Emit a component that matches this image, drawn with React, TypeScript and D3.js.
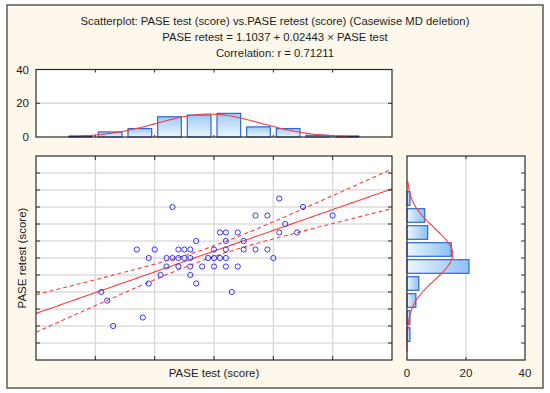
import { useEffect } from 'react';
import * as d3 from 'd3';

// scatter data (visible markers), test score vs retest score
const PASE_TEST = [
  51, 33, 55, 47, 49, 60, 52, 41, 42, 44, 51, 54, 37, 42, 45, 27, 30, 34, 35, 36, 40, 42, 45, 47,
  49, 29, 32, 33, 34, 35, 36, 39, 40, 41, 42, 50, 32, 34, 36, 38, 40, 42, 44, 31, 36, 29, 37, 21,
  43, 22, 28, 23,
];
const PASE_RETEST = [
  2.7, 2.6, 2.6, 2.5, 2.5, 2.5, 2.4, 2.3, 2.3, 2.3, 2.3, 2.3, 2.2, 2.2, 2.2, 2.1, 2.1, 2.1, 2.1,
  2.1, 2.1, 2.1, 2.1, 2.1, 2.1, 2.0, 2.0, 2.0, 2.0, 2.0, 2.0, 2.0, 2.0, 2.0, 2.0, 2.0, 1.9, 1.9,
  1.9, 1.9, 1.9, 1.9, 1.9, 1.8, 1.8, 1.7, 1.7, 1.6, 1.6, 1.5, 1.3, 1.2,
];

// marginal histograms
const TEST_BIN_START = [15, 20, 25, 30, 35, 40, 45, 50, 55, 60];
const TEST_BIN_COUNT = [0, 3, 5, 12, 13, 14, 6, 5, 1, 0];
const TEST_BIN_WIDTH = 5;
const RETEST_BIN_START = [0.8, 1.0, 1.2, 1.4, 1.6, 1.8, 2.0, 2.2, 2.4, 2.6, 2.8];
const RETEST_BIN_COUNT = [0, 1, 1, 3, 4, 21, 15, 7, 6, 1, 0];
const RETEST_BIN_WIDTH = 0.2;

const TEST_TICKS = [10, 20, 30, 40, 50, 60, 70];
const RETEST_TICKS = [0.8, 1.0, 1.2, 1.4, 1.6, 1.8, 2.0, 2.2, 2.4, 2.6, 2.8, 3.0, 3.2];
const COUNT_TICKS = [0, 20, 40];

const INTERCEPT = 1.1037;
const SLOPE = 0.02443;
const T_CRIT = 2.009;

const FONT = '"Liberation Sans", Arial, sans-serif';

export default function App() {
  useEffect(() => {
    document.body.style.margin = '0';
  }, []);

  const sc = { left: 36, right: 392, top: 156, bottom: 360 };
  const th = { top: 69.5, bottom: 137 };
  const sh = { left: 407, right: 525 };

  const x = d3.scaleLinear().domain([10, 70]).range([sc.left, sc.right]);
  const y = d3.scaleLinear().domain([0.8, 3.2]).range([sc.bottom, sc.top]);
  const cTop = d3.scaleLinear().domain([0, 40]).range([th.bottom, th.top]);
  const cSide = d3.scaleLinear().domain([0, 40]).range([sh.left, sh.right]);

  // regression + 95% confidence band
  const n = PASE_TEST.length;
  const xbar = d3.mean(PASE_TEST) ?? 0;
  const sxx = d3.sum(PASE_TEST, (v) => (v - xbar) ** 2);
  const sse = d3.sum(PASE_TEST, (v, i) => (PASE_RETEST[i] - (INTERCEPT + SLOPE * v)) ** 2);
  const s = Math.sqrt(sse / (n - 2));
  const fit = (v: number) => INTERCEPT + SLOPE * v;
  const half = (v: number) => T_CRIT * s * Math.sqrt(1 / n + (v - xbar) ** 2 / sxx);
  const xs = d3.range(10, 70.001, 0.5);
  const lineFn = (f: (v: number) => number) =>
    d3.line<number>().x((v) => x(v)).y((v) => y(f(v)))(xs) ?? '';

  // normal curves for the histograms
  const tMean = d3.mean(PASE_TEST) ?? 0;
  const tSd = d3.deviation(PASE_TEST) ?? 1;
  const rMean = d3.mean(PASE_RETEST) ?? 0;
  const rSd = d3.deviation(PASE_RETEST) ?? 1;
  const tN = d3.sum(TEST_BIN_COUNT);
  const rN = d3.sum(RETEST_BIN_COUNT);
  const pdf = (v: number, m: number, sd: number) =>
    Math.exp(-0.5 * ((v - m) / sd) ** 2) / (sd * Math.sqrt(2 * Math.PI));

  const tFirst = TEST_BIN_START[0] + TEST_BIN_WIDTH / 2;
  const tLast = TEST_BIN_START[TEST_BIN_START.length - 1] + TEST_BIN_WIDTH / 2;
  const topCurve =
    d3
      .line<number>()
      .x((v) => x(v))
      .y((v) => cTop(tN * TEST_BIN_WIDTH * pdf(v, tMean, tSd)))
      .curve(d3.curveBasis)(d3.range(tFirst, tLast + 0.001, 0.5)) ?? '';

  const rFirst = RETEST_BIN_START[0] + RETEST_BIN_WIDTH / 2;
  const rLast = RETEST_BIN_START[RETEST_BIN_START.length - 1] + RETEST_BIN_WIDTH / 2;
  const sideCurve =
    d3
      .line<number>()
      .x((v) => cSide(rN * RETEST_BIN_WIDTH * pdf(v, rMean, rSd)))
      .y((v) => y(v))
      .curve(d3.curveBasis)(d3.range(rFirst, rLast + 0.0001, 0.02)) ?? '';

  const grid = '#dcdcdc';
  const axis = '#2a2a2a';
  const red = '#ff3b3b';
  const barStroke = '#2f66d6';

  return (
    <svg width={550} height={393} style={{ display: 'block', fontFamily: FONT }}>
      <defs>
        <linearGradient id="gTop" x1="0" y1="1" x2="0" y2="0">
          <stop offset="0%" stopColor="#eef6fe" />
          <stop offset="100%" stopColor="#9dcbf6" />
        </linearGradient>
        <linearGradient id="gSide" x1="0" y1="0" x2="1" y2="0">
          <stop offset="0%" stopColor="#eef6fe" />
          <stop offset="100%" stopColor="#8cc1f4" />
        </linearGradient>
        <clipPath id="clipSc">
          <rect x={sc.left} y={sc.top} width={sc.right - sc.left} height={sc.bottom - sc.top} />
        </clipPath>
      </defs>

      <rect x={0} y={0} width={550} height={393} fill="#fff" />
      <rect x={7} y={5} width={536} height={383} fill="#fdf8eb" stroke="#5a5a5a" strokeWidth={1.5} />

      {/* titles */}
      <g fill="#1e1e1e" fontSize={11.3} textAnchor="middle">
        <text x={275} y={25}>
          Scatterplot: PASE test (score) vs.PASE retest (score) (Casewise MD deletion)
        </text>
        <text x={275} y={41}>PASE retest = 1.1037 + 0.02443 × PASE test</text>
        <text x={275} y={57}>Correlation: r = 0.71211</text>
      </g>

      {/* top histogram */}
      <rect x={sc.left} y={th.top} width={sc.right - sc.left} height={th.bottom - th.top} fill="#fff" />
      <line x1={sc.left} x2={sc.right} y1={cTop(20)} y2={cTop(20)} stroke={grid} strokeWidth={1.5} />
      {TEST_BIN_START.map((b, i) =>
        TEST_BIN_COUNT[i] === 0 ? (
          <line
            key={b}
            x1={x(b) + 3}
            x2={x(b + TEST_BIN_WIDTH) - 3}
            y1={th.bottom - 0.5}
            y2={th.bottom - 0.5}
            stroke="#102a8a"
            strokeWidth={2}
          />
        ) : (
          <rect
            key={b}
            x={x(b) + 3}
            y={cTop(TEST_BIN_COUNT[i])}
            width={x(b + TEST_BIN_WIDTH) - x(b) - 6}
            height={th.bottom - cTop(TEST_BIN_COUNT[i])}
            fill="url(#gTop)"
            stroke={barStroke}
            strokeWidth={1.2}
          />
        )
      )}
      <path d={topCurve} fill="none" stroke={red} strokeWidth={1.1} />
      <g stroke={axis} strokeWidth={1}>
        {TEST_TICKS.slice(1, -1).map((t) => (
          <g key={t}>
            <line x1={x(t)} x2={x(t)} y1={th.top} y2={th.top + 3} />
            <line x1={x(t)} x2={x(t)} y1={th.bottom} y2={th.bottom - 2} />
          </g>
        ))}
        <line x1={sc.left} x2={sc.left + 4} y1={cTop(20)} y2={cTop(20)} />
        <line x1={sc.right} x2={sc.right - 4} y1={cTop(20)} y2={cTop(20)} />
      </g>
      <rect
        x={sc.left}
        y={th.top}
        width={sc.right - sc.left}
        height={th.bottom - th.top}
        fill="none"
        stroke={axis}
        strokeWidth={1.2}
      />
      <g fontSize={11.5} fill="#222" textAnchor="end">
        {COUNT_TICKS.map((t) => (
          <text key={t} x={29} y={cTop(t) + 4}>
            {t}
          </text>
        ))}
      </g>

      {/* scatterplot */}
      <rect x={sc.left} y={sc.top} width={sc.right - sc.left} height={sc.bottom - sc.top} fill="#fff" />
      <g stroke={grid} strokeWidth={1.5}>
        {TEST_TICKS.slice(1, -1).map((t) => (
          <line key={t} x1={x(t)} x2={x(t)} y1={sc.top} y2={sc.bottom} />
        ))}
        {RETEST_TICKS.slice(1, -1).map((t) => (
          <line key={t} x1={sc.left} x2={sc.right} y1={y(t)} y2={y(t)} />
        ))}
      </g>
      <g clipPath="url(#clipSc)" fill="none" stroke={red} strokeWidth={1.1}>
        <path d={lineFn(fit)} />
        <path d={lineFn((v) => fit(v) + half(v))} strokeDasharray="4 3" />
        <path d={lineFn((v) => fit(v) - half(v))} strokeDasharray="4 3" />
      </g>
      <g fill="none" stroke="#3434ff" strokeWidth={1}>
        {PASE_TEST.map((v, i) => (
          <circle key={i} cx={x(v)} cy={y(PASE_RETEST[i])} r={2.6} />
        ))}
      </g>
      <g stroke={axis} strokeWidth={1}>
        {RETEST_TICKS.slice(1, -1).map((t) => (
          <g key={t}>
            <line x1={sc.left} x2={sc.left + 4} y1={y(t)} y2={y(t)} />
            <line x1={sc.right} x2={sc.right - 4} y1={y(t)} y2={y(t)} />
          </g>
        ))}
        {TEST_TICKS.slice(1, -1).map((t) => (
          <g key={t}>
            <line x1={x(t)} x2={x(t)} y1={sc.top} y2={sc.top + 4} />
            <line x1={x(t)} x2={x(t)} y1={sc.bottom} y2={sc.bottom - 4} />
          </g>
        ))}
      </g>
      <rect
        x={sc.left}
        y={sc.top}
        width={sc.right - sc.left}
        height={sc.bottom - sc.top}
        fill="none"
        stroke={axis}
        strokeWidth={1.2}
      />
      <text x={214} y={377} fontSize={11.5} fill="#222" textAnchor="middle">
        PASE test (score)
      </text>
      <text
        transform={`translate(26,${(sc.top + sc.bottom) / 2}) rotate(-90)`}
        fontSize={11.5}
        fill="#222"
        textAnchor="middle"
      >
        PASE retest (score)
      </text>

      {/* side histogram */}
      <rect x={sh.left} y={sc.top} width={sh.right - sh.left} height={sc.bottom - sc.top} fill="#fff" />
      <line x1={cSide(20)} x2={cSide(20)} y1={sc.top} y2={sc.bottom} stroke={grid} strokeWidth={1.5} />
      <g stroke={axis} strokeWidth={1}>
        {RETEST_TICKS.slice(1, -1).map((t) => (
          <line key={t} x1={sh.right} x2={sh.right - 4} y1={y(t)} y2={y(t)} />
        ))}
        <line x1={cSide(20)} x2={cSide(20)} y1={sc.top} y2={sc.top + 3} />
        <line x1={cSide(20)} x2={cSide(20)} y1={sc.bottom} y2={sc.bottom - 3} />
      </g>
      {RETEST_BIN_START.map((b, i) =>
        RETEST_BIN_COUNT[i] === 0 ? null : (
          <rect
            key={b}
            x={sh.left}
            y={y(b + RETEST_BIN_WIDTH) + 1.7}
            width={cSide(RETEST_BIN_COUNT[i]) - sh.left}
            height={y(b) - y(b + RETEST_BIN_WIDTH) - 3.4}
            fill="url(#gSide)"
            stroke={barStroke}
            strokeWidth={1.2}
          />
        )
      )}
      <path d={sideCurve} fill="none" stroke={red} strokeWidth={1.1} />
      <rect
        x={sh.left}
        y={sc.top}
        width={sh.right - sh.left}
        height={sc.bottom - sc.top}
        fill="none"
        stroke={axis}
        strokeWidth={1.2}
      />
      <g fontSize={11.5} fill="#222" textAnchor="middle">
        {COUNT_TICKS.map((t) => (
          <text key={t} x={cSide(t)} y={377}>
            {t}
          </text>
        ))}
      </g>
    </svg>
  );
}
